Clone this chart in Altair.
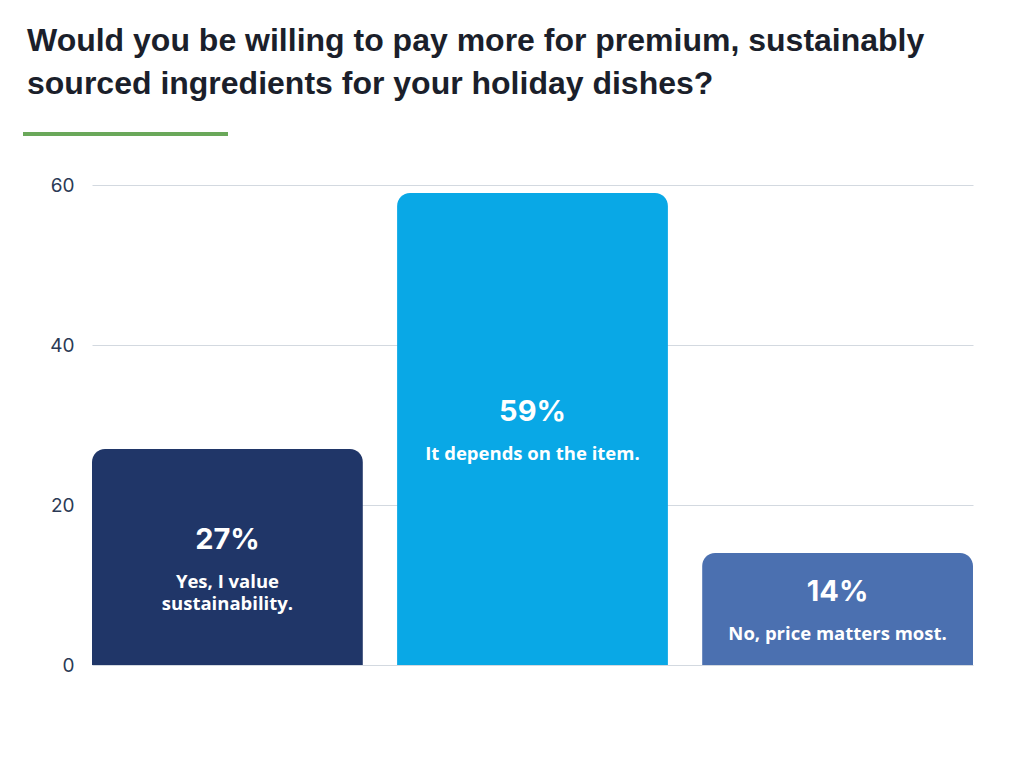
import altair as alt
import pandas as pd

title_lines = [
    "Would you be willing to pay more for premium, sustainably",
    "sourced ingredients for your holiday dishes?",
]
categories = ["Yes", "Depends", "No"]
answer_labels = ["Yes, I value\nsustainability.", "It depends on the item.", "No, price matters most."]
values = [27, 59, 14]
bar_colors = ["#203668", "#09a8e6", "#4b70b0"]
y_ticks = [0, 20, 40, 60]

df = pd.DataFrame({
    "category": categories,
    "answer": answer_labels,
    "value": values,
    "pct": [f"{v}%" for v in values],
})

x_enc = alt.X("category:N", sort=categories, axis=None,
              scale=alt.Scale(paddingInner=0.112, paddingOuter=0))
color_enc = alt.Color("category:N", sort=categories, legend=None,
                      scale=alt.Scale(domain=categories, range=bar_colors))

base = alt.Chart(df)

bars = base.mark_bar(cornerRadiusTopLeft=13, cornerRadiusTopRight=13).encode(
    x=x_enc,
    y=alt.Y("value:Q", title=None,
            scale=alt.Scale(domain=[0, 60], nice=False),
            axis=alt.Axis(values=y_ticks, grid=True, domain=False, ticks=False,
                          labelFont="Inter", labelFontSize=19, labelColor="#2b3a55",
                          labelPadding=18, gridColor="#d3d9e0", gridWidth=1)),
    color=color_enc,
)

pct_text = base.transform_calculate(mid="datum.value / 2").mark_text(
    font="Inter", fontSize=29, fontWeight="bold", color="white",
    baseline="middle", dy=-17,
).encode(x=x_enc, y=alt.Y("mid:Q"), text="pct:N")

answer_text = base.transform_calculate(mid="datum.value / 2").mark_text(
    font="Open Sans", fontSize=18.5, fontWeight="bold", color="white",
    baseline="alphabetic", dy=31, lineBreak="\n", lineHeight=22,
).encode(x=x_enc, y=alt.Y("mid:Q"), text="answer:N")

accent = base.mark_rule(color="#6aa85a", strokeWidth=4).encode(
    x=alt.value(-69), x2=alt.value(136), y=alt.value(-51)
)

chart = alt.layer(bars, pct_text, answer_text, accent).properties(
    width=881,
    height=480,
    background="white",
    autosize=alt.AutoSizeParams(type="none"),
    padding={"left": 92, "top": 185, "right": 51, "bottom": 103},
    title=alt.TitleParams(
        text=title_lines, anchor="start", frame="group",
        font="Liberation Sans", fontSize=32, fontWeight="bold",
        color="#1b1f2b", lineHeight=43, dx=-65, offset=31,
    ),
).configure_view(strokeWidth=0, stroke="transparent")

chart.save("out.html", embed_options={"renderer": "svg", "actions": False})
